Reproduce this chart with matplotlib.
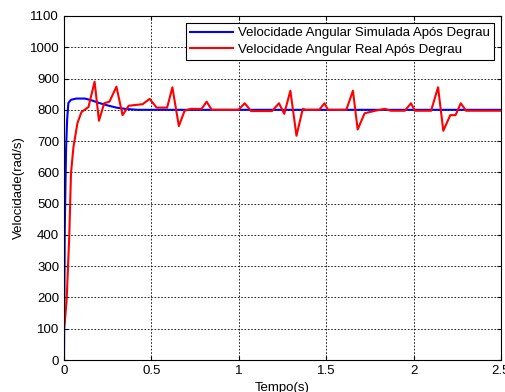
import numpy as np
import matplotlib
matplotlib.use("Agg")
import matplotlib.pyplot as plt

plt.rcParams['font.family'] = ['Liberation Sans', 'DejaVu Sans']

# simulated response
t_sim = [0, 0.004, 0.008, 0.012, 0.018, 0.025, 0.04, 0.07, 0.12, 0.16, 0.2, 0.25,
         0.3, 0.35, 0.42, 2.5]
v_sim = [0, 400, 550, 680, 770, 822, 832, 836, 836, 830, 822, 814,
         807, 803, 800, 800]

# real response
t_real = [0, 0.006, 0.015, 0.03, 0.04, 0.054, 0.077, 0.10, 0.14, 0.175, 0.20, 0.23,
          0.26, 0.30, 0.335, 0.37, 0.45, 0.49, 0.53, 0.59, 0.62, 0.657, 0.69,
          0.724, 0.787, 0.816, 0.845, 0.998, 1.034, 1.07, 1.19, 1.23, 1.26, 1.295,
          1.33, 1.366, 1.38, 1.46, 1.49, 1.51, 1.615, 1.653, 1.68, 1.72, 1.78,
          1.835, 1.87, 1.95, 1.985, 2.007, 2.10, 2.14, 2.17, 2.21, 2.24, 2.27,
          2.30, 2.5]
v_real = [100, 130, 192, 394, 598, 681, 758, 793, 809, 890, 765, 821,
          826, 874, 783, 813, 818, 835, 807, 807, 872, 748, 797,
          803, 803, 826, 800, 800, 821, 796, 796, 821, 787, 861,
          717, 803, 800, 800, 821, 800, 800, 861, 737, 789, 797,
          803, 797, 797, 821, 797, 797, 872, 733, 783, 783, 821,
          797, 797]

fig = plt.figure(figsize=(5.06, 3.92), dpi=100)
ax = fig.add_axes([0.1265, 0.0816, 0.8636, 0.8776])

ax.plot(t_sim, v_sim, color='#0000ff', lw=1.5, label='Velocidade Angular Simulada Após Degrau')
ax.plot(t_real, v_real, color='#ff0000', lw=1.5, label='Velocidade Angular Real Após Degrau')

ax.set_xlim(0, 2.5)
ax.set_ylim(0, 1100)
ax.set_xticks(np.arange(0, 2.51, 0.5))
ax.set_xticklabels(['0', '0.5', '1', '1.5', '2', '2.5'])
ax.set_yticks(np.arange(0, 1101, 100))
ax.tick_params(direction='in', top=True, right=True, labelsize=9.5, length=3, width=0.8)
ax.grid(True, color='black', linestyle=(0, (2, 2)), linewidth=0.6)
ax.set_xlabel('Tempo(s)', fontsize=9.5, labelpad=4)
ax.set_ylabel('Velocidade(rad/s)', fontsize=9.5, labelpad=3)
for s in ax.spines.values():
    s.set_linewidth(0.8)

leg = ax.legend(loc='upper right', fontsize=9.5, fancybox=False, framealpha=1,
                edgecolor='black', borderaxespad=0.5, handlelength=3.2,
                labelspacing=0.3, borderpad=0.35, handletextpad=0.4)
leg.get_frame().set_linewidth(0.8)

fig.savefig('out.png', dpi=100)
